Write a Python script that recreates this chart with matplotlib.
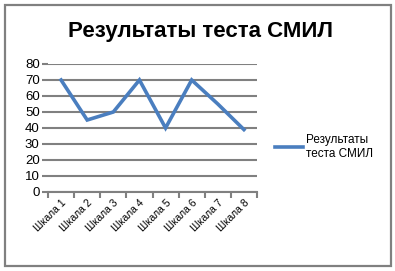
import matplotlib
matplotlib.use("Agg")
import matplotlib.pyplot as plt
from matplotlib.patches import Rectangle

categories = ["Шкала 1", "Шкала 2", "Шкала 3", "Шкала 4", "Шкала 5", "Шкала 6", "Шкала 7", "Шкала 8"]
values = [70, 45, 50, 70, 40, 70, 55, 39]
series_name = "Результаты теста СМИЛ"
title = "Результаты теста СМИЛ"
yticks = [0, 10, 20, 30, 40, 50, 60, 70, 80]

plt.rcParams['font.family'] = ['Liberation Sans', 'DejaVu Sans']

W, H = 395, 271
fig = plt.figure(figsize=(W/100, H/100), dpi=100)
fig.patch.set_facecolor("white")
fig.patches.append(Rectangle((5/W, 5/H), 386/W, 261/H, transform=fig.transFigure,
                             fill=False, edgecolor="#808080", linewidth=1.6))

ax = fig.add_axes([48/W, 1 - 192/H, (257-48)/W, (192-64)/H])
x = list(range(len(categories)))
ax.plot(x, values, color="#4A7EBF", linewidth=2.6, label=series_name, solid_joinstyle="miter")
ax.set_xlim(-0.5, len(categories) - 0.5)
ax.set_ylim(0, 80)
ax.set_yticks(yticks)
ax.set_yticklabels([str(v) for v in yticks], fontsize=9.5)
ax.yaxis.grid(True, color="#808080", linewidth=1.5)
ax.set_axisbelow(True)
ax.set_xticks([i - 0.5 for i in range(len(categories) + 1)], minor=False)
ax.set_xticklabels([""] * (len(categories) + 1))
ax.set_xticks(x, minor=True)
ax.set_xticklabels(categories, minor=True, rotation=45, ha="right", rotation_mode="anchor", fontsize=7.5)
ax.tick_params(axis="x", which="minor", length=0, pad=4)
ax.tick_params(axis="x", which="major", length=4, width=1.5, color="#808080")
ax.tick_params(axis="y", length=4, width=1.5, color="#808080", pad=2)
for s in ["top", "right", "left"]:
    ax.spines[s].set_visible(False)
ax.spines["bottom"].set_color("#808080")
ax.spines["bottom"].set_linewidth(1.5)

fig.text(200/W, 1 - 32/H, title, ha="center", va="center", fontsize=16, fontweight="bold")

# legend
lx0, lx1, ly = 275/W, 303/W, 1 - 147/H
fig.lines.append(plt.Line2D([lx0, lx1], [ly, ly], transform=fig.transFigure, color="#4A7EBF", linewidth=2.6))
fig.text(306/W, ly, "Результаты\nтеста СМИЛ", ha="left", va="center", fontsize=8.5, linespacing=1.2)

fig.savefig("out.png", dpi=100)
